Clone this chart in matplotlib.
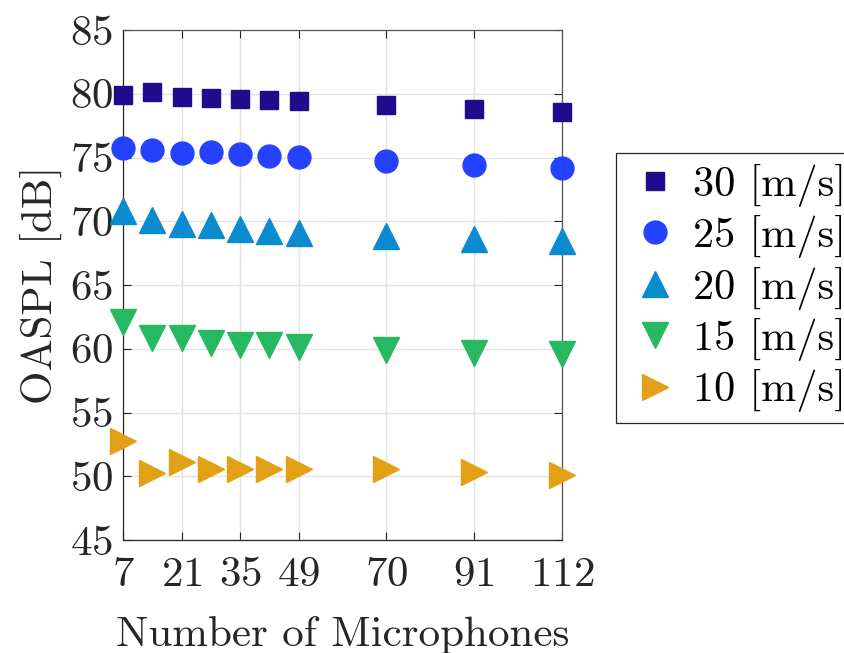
import matplotlib
matplotlib.use('Agg')
import matplotlib.pyplot as plt
import numpy as np

plt.rcParams['font.family'] = 'serif'
plt.rcParams['font.serif'] = ['cmr10']
plt.rcParams['mathtext.fontset'] = 'cm'
plt.rcParams['axes.formatter.use_mathtext'] = True

mics = [7, 14, 21, 28, 35, 42, 49, 70, 91, 112]

oaspl_30 = [79.87, 80.13, 79.74, 79.69, 79.60, 79.53, 79.43, 79.08, 78.82, 78.60]
oaspl_25 = [75.73, 75.55, 75.36, 75.44, 75.26, 75.13, 75.05, 74.69, 74.42, 74.20]
oaspl_20 = [70.78, 70.08, 69.80, 69.69, 69.43, 69.25, 69.11, 68.82, 68.64, 68.42]
oaspl_15 = [62.13, 60.81, 60.86, 60.45, 60.26, 60.31, 60.10, 59.87, 59.69, 59.58]
oaspl_10 = [52.77, 50.28, 51.15, 50.57, 50.55, 50.57, 50.60, 50.57, 50.31, 50.13]

labels = ['30 [m/s]', '25 [m/s]', '20 [m/s]', '15 [m/s]', '10 [m/s]']
xticks = [7, 21, 35, 49, 70, 91, 112]

fig = plt.figure(figsize=(8.45, 6.53), dpi=100)
ax = fig.add_axes([123/845, 1-540/653, (562-123)/845, (540-30)/653])

kw = dict(linestyle='none', clip_on=False, zorder=5)
ax.plot(mics, oaspl_30, marker='s', color='#1f0c8c', ms=12.5, label=labels[0], **kw)
ax.plot(mics, oaspl_25, marker='o', color='#2442ff', ms=16.5, label=labels[1], **kw)
ax.plot(mics, oaspl_20, marker='^', color='#0a8bd0', ms=19, label=labels[2], **kw)
ax.plot(mics, oaspl_15, marker='v', color='#27b862', ms=19, label=labels[3], **kw)
ax.plot(mics, oaspl_10, marker='>', color='#e2a016', ms=19, label=labels[4], **kw)

ax.set_xlim(7, 112)
ax.set_ylim(45, 85)
ax.set_xticks(xticks)
ax.set_yticks(np.arange(45, 86, 5))
ax.grid(True, color='#e3e3e3', lw=1)
ax.set_axisbelow(True)
ax.tick_params(direction='in', length=6, width=0.8, top=True, right=True,
               labelsize=31, colors='#262626')
ax.tick_params(axis='x', pad=12)
ax.tick_params(axis='y', pad=7)
for s in ax.spines.values():
    s.set_color('#262626')
    s.set_linewidth(0.9)
for sp in ['top', 'right']:
    ax.spines[sp].set_color('#555555')

ax.set_xlabel('Number of Microphones', fontsize=31, color='#262626', labelpad=16)
ax.set_ylabel('OASPL [dB]', fontsize=31, color='#262626', labelpad=6)

leg = ax.legend(loc='upper left', bbox_to_anchor=(616/845, 1-153/653),
                bbox_transform=fig.transFigure, fontsize=30.5, frameon=True,
                fancybox=False, edgecolor='#262626', framealpha=1,
                labelspacing=0.2, handletextpad=0.23, borderpad=0.25,
                handlelength=1.34, borderaxespad=0)
leg.get_frame().set_linewidth(0.9)

fig.savefig('out.png', dpi=100)
